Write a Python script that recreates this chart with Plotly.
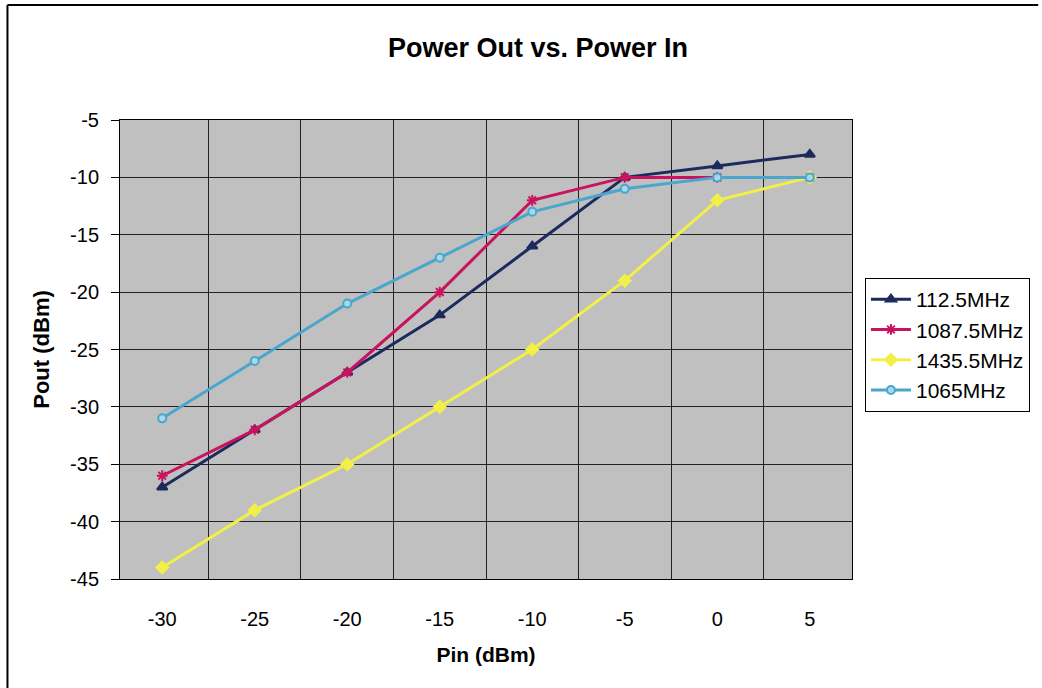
import plotly.graph_objects as go

pin = ["-30", "-25", "-20", "-15", "-10", "-5", "0", "5"]
s_112 = [-37, -32, -27, -22, -16, -10, -9, -8]
s_1087 = [-36, -32, -27, -20, -12, -10, -10, -10]
s_1435 = [-44, -39, -35, -30, -25, -19, -12, -10]
s_1065 = [-31, -26, -21, -17, -13, -11, -10, -10]
y_ticks = [-45, -40, -35, -30, -25, -20, -15, -10, -5]

names = ["112.5MHz", "1087.5MHz", "1435.5MHz", "1065MHz"]
colors = ["#1c2a5e", "#c8145f", "#f2f046", "#4aa6cc"]
symbols = ["triangle-up", "asterisk-open", "diamond", "circle"]
series = [s_112, s_1087, s_1435, s_1065]

fig = go.Figure()
for nm, col, sym, ys in zip(names, colors, symbols, series):
    mk = dict(symbol=sym, size=9, color=col, line=dict(color=col, width=2))
    if sym == "circle":
        mk = dict(symbol="circle", size=8, color="#a8d8ec", line=dict(color=col, width=2))
    fig.add_trace(go.Scatter(x=pin, y=ys, name=nm, mode="lines+markers",
                             line=dict(color=col, width=3), marker=mk))

L, R, T, B = 120, 855, 120, 579
W, H = 1042, 688

def px(x):
    return (x - L) / (R - L)

def py(y):
    return (B - y) / (B - T)

fig.update_layout(
    width=W, height=H,
    margin=dict(l=L, r=W - R, t=T, b=H - B),
    paper_bgcolor="white",
    plot_bgcolor="#c0c0c0",
    font=dict(family="Liberation Sans, Arial", size=20, color="black"),
    title=dict(text="<b>Power Out vs. Power In</b>", x=538 / W, xanchor="center",
               y=1 - 48 / H, yanchor="middle", font=dict(size=27)),
    xaxis=dict(type="category", tickson="boundaries", showgrid=True, gridcolor="#222222",
               gridwidth=1, ticks="", ticklabelstandoff=22,
               showline=True, linecolor="black", linewidth=1, mirror=True,
               title=dict(text="<b>Pin (dBm)</b>", font=dict(size=21), standoff=18),
               tickfont=dict(size=20)),
    yaxis=dict(range=[-45, -5], tickmode="array", tickvals=y_ticks,
               ticktext=[str(v) for v in y_ticks],
               showgrid=True, gridcolor="#222222", gridwidth=1,
               ticks="outside", ticklen=8, tickcolor="black", ticklabelstandoff=8,
               showline=True, linecolor="black", linewidth=1, mirror=True,
               zeroline=False,
               title=dict(text="<b>Pout (dBm)</b>", font=dict(size=22), standoff=14),
               tickfont=dict(size=20)),
    legend=dict(x=px(868), y=py(278), xanchor="left", yanchor="top",
                bordercolor="black", borderwidth=1, bgcolor="white",
                font=dict(size=21), tracegroupgap=0, itemwidth=40),
    showlegend=True,
)

# outer frame of the chart area
fig.add_shape(type="line", xref="paper", yref="paper",
              x0=px(7), x1=px(1042), y0=py(5), y1=py(5), line=dict(color="black", width=2))
fig.add_shape(type="line", xref="paper", yref="paper",
              x0=px(7), x1=px(7), y0=py(5), y1=py(688), line=dict(color="black", width=2))

fig.write_html("out.html")
